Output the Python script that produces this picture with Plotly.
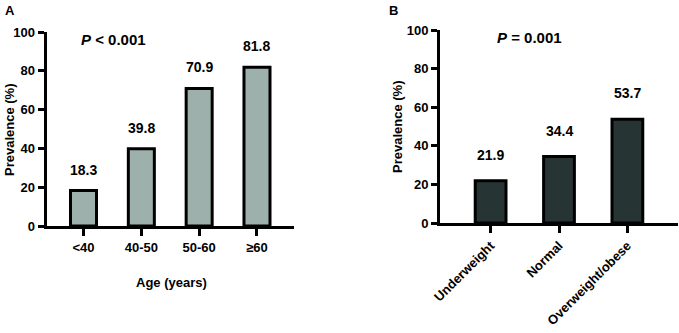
import plotly.graph_objects as go

age_groups = ["<40", "40-50", "50-60", "≥60"]
age_prev = [18.3, 39.8, 70.9, 81.8]

bmi_groups = ["Underweight", "Normal", "Overweight/obese"]
bmi_prev = [21.9, 34.4, 53.7]

y_ticks = [0, 20, 40, 60, 80, 100]

W, H = 679, 333
FONT = "Liberation Sans"

fig = go.Figure()
fig.add_trace(go.Bar(x=list(range(len(age_groups))), y=age_prev, width=0.45,
                     marker=dict(color="#9eb0ab", line=dict(color="black", width=3)),
                     xaxis="x", yaxis="y", showlegend=False))
fig.add_trace(go.Bar(x=list(range(len(bmi_groups))), y=bmi_prev, width=0.45,
                     marker=dict(color="#263533", line=dict(color="black", width=3)),
                     xaxis="x2", yaxis="y2", showlegend=False))

tickfont = dict(family=FONT, size=13, color="black")

def px(v):
    return v / W

def py(v):
    return 1 - v / H

def b(s):
    return f"<b>{s}</b>"

common_y = dict(range=[0, 100], tickvals=y_ticks, ticktext=[b(t) for t in y_ticks],
                showline=True, linecolor="black",
                linewidth=3, ticks="outside", ticklen=6, tickwidth=3, tickcolor="black",
                showgrid=False, zeroline=False, tickfont=tickfont, automargin=False)
common_x = dict(showline=True, linecolor="black", linewidth=3, ticks="outside",
                ticklen=7, tickwidth=3, tickcolor="black", showgrid=False,
                zeroline=False, tickfont=tickfont, automargin=False)

fig.update_layout(
    width=W, height=H, margin=dict(l=0, r=0, t=0, b=0, pad=0),
    paper_bgcolor="white", plot_bgcolor="white",
    xaxis=dict(domain=[px(46.5), px(294)], range=[-0.64, 3.64],
               tickvals=list(range(len(age_groups))), ticktext=[b(g) for g in age_groups],
               anchor="y", **common_x),
    yaxis=dict(domain=[py(226), py(32)], anchor="x", **common_y),
    xaxis2=dict(domain=[px(440), px(678)], range=[-0.74, 2.74],
                tickvals=list(range(len(bmi_groups))), ticktext=[b(g) for g in bmi_groups],
                tickangle=-45, anchor="y2", **common_x),
    yaxis2=dict(domain=[py(223), py(30)], anchor="x2", **common_y),
)

ann = []
# value labels
for i, v in enumerate(age_prev):
    ann.append(dict(x=i, y=v, xref="x", yref="y", text=b(v), showarrow=False,
                    xanchor="center", yanchor="bottom", yshift=11,
                    font=dict(family=FONT, size=14, color="black")))
for i, v in enumerate(bmi_prev):
    ann.append(dict(x=i, y=v, xref="x2", yref="y2", text=b(v), showarrow=False,
                    xanchor="center", yanchor="bottom", yshift=16,
                    font=dict(family=FONT, size=14, color="black")))

def pa(x, y, text, size=13, angle=0, xa="center", ya="middle"):
    return dict(x=px(x), y=py(y), xref="paper", yref="paper", text=text, showarrow=False,
                xanchor=xa, yanchor=ya, textangle=angle,
                font=dict(family=FONT, size=size, color="black"))

ann += [
    pa(3, 1, b("A"), xa="left", ya="top"),
    pa(387, 1, b("B"), xa="left", ya="top"),
    pa(114, 39, "<b><i>P</i> < 0.001</b>", size=15),
    pa(529, 38, "<b><i>P</i> = 0.001</b>", size=15),
    pa(9, 130, b("Prevalence (%)"), angle=-90),
    pa(398, 127, b("Prevalence (%)"), angle=-90),
    pa(171, 282, b("Age (years)")),
]
fig.update_layout(annotations=ann)

fig.write_html("out.html", config={"displayModeBar": False},
               post_script="document.body.style.margin='0px';document.body.style.overflow='hidden';")
